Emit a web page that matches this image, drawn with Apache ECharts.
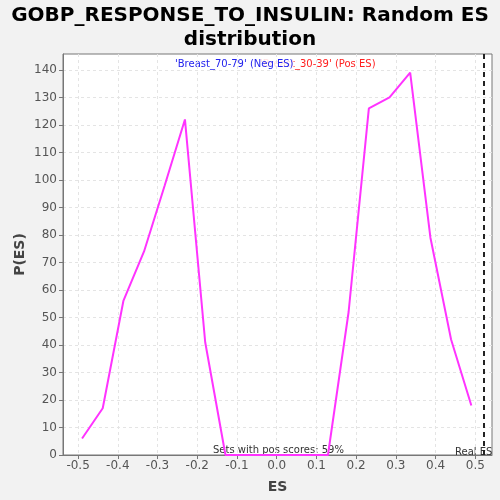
<!DOCTYPE html>
<html>
<head>
<meta charset="utf-8">
<script src="https://cdn.jsdelivr.net/npm/echarts@6/dist/echarts.min.js"></script>
<style>
html,body{margin:0;padding:0;background:#f2f2f2;}
#c{width:500px;height:500px;}
</style>
</head>
<body>
<div id="c"></div>
<script>
var esValues = [-0.490, -0.438, -0.386, -0.334, -0.282, -0.231, -0.180, -0.129, -0.077, -0.026, 0.026, 0.077, 0.129, 0.181, 0.232, 0.284, 0.336, 0.387, 0.439, 0.490];
var pValues = [6, 17, 56, 74, 98, 122, 41, 0, 0, 0, 0, 0, 0, 52, 126, 130, 139, 79, 42, 18];
var xTicks = [-0.5, -0.4, -0.3, -0.2, -0.1, 0.0, 0.1, 0.2, 0.3, 0.4, 0.5];
var yTicks = [0, 10, 20, 30, 40, 50, 60, 70, 80, 90, 100, 110, 120, 130, 140];
var realES = 0.524;
var titleText = 'GOBP_RESPONSE_TO_INSULIN: Random ES\ndistribution';
var negLabel = "'Breast_70-79' (Neg ES)";
var posLabel = "'Breast_30-39' (Pos ES)";
var posScoreText = 'Sets with pos scores: 59%';

var chart = echarts.init(document.getElementById('c'), null, {renderer: 'canvas'});
var gridLeft = 63, gridRight = 8, gridTop = 54, gridBottom = 45;
var option = {
  backgroundColor: '#f2f2f2',
  animation: false,
  title: {
    text: titleText,
    left: 'center',
    top: -1,
    textStyle: {fontFamily: 'DejaVu Sans', fontWeight: 'bold', fontSize: 20, color: '#000', lineHeight: 24}
  },
  grid: {left: gridLeft, right: gridRight, top: gridTop, bottom: gridBottom, show: true, backgroundColor: '#fff', borderColor: '#777', borderWidth: 1},
  xAxis: {
    type: 'value',
    min: -0.538, max: 0.542,
    name: 'ES', nameLocation: 'middle', nameGap: 25,
    nameTextStyle: {fontFamily: 'DejaVu Sans', fontWeight: 'bold', fontSize: 14, color: '#444'},
    axisLine: {show: true, onZero: false, lineStyle: {color: '#777'}},
    axisTick: {show: true, length: 4, customValues: xTicks, lineStyle: {color: '#777'}},
    axisLabel: {customValues: xTicks, fontFamily: 'DejaVu Sans', fontSize: 12, color: '#555', margin: 5,
      formatter: function(v){ return v.toFixed(1); }},
    splitLine: {show: true, lineStyle: {color: '#e4e4e4', type: [3, 3]}}
  },
  yAxis: {
    type: 'value',
    min: 0, max: 145.8,
    name: 'P(ES)', nameLocation: 'middle', nameGap: 36, nameMoveOverlap: false,
    nameTextStyle: {fontFamily: 'DejaVu Sans', fontWeight: 'bold', fontSize: 14, color: '#444'},
    axisLine: {show: true, onZero: false, lineStyle: {color: '#777'}},
    axisTick: {show: true, length: 4, customValues: yTicks, lineStyle: {color: '#777'}},
    axisLabel: {customValues: yTicks, fontFamily: 'DejaVu Sans', fontSize: 12, color: '#555', margin: 6},
    splitLine: {show: true, lineStyle: {color: '#e4e4e4', type: [3, 3]}}
  },
  series: [{
    type: 'line',
    data: esValues.map(function(x, i){ return [x, pValues[i]]; }),
    showSymbol: false,
    lineStyle: {color: '#ff33ff', width: 2},
    itemStyle: {color: '#ff33ff'},
    markLine: {
      silent: true,
      symbol: ['none', 'none'],
      label: {show: false},
      lineStyle: {color: '#222', type: [5, 4], width: 2},
      data: [{xAxis: realES}]
    }
  }],
  graphic: [
    {type: 'text', left: 260, top: 59, style: {text: posLabel, fill: '#ff2020', font: '10px "DejaVu Sans"'}},
    {type: 'text', left: 175, top: 59, style: {text: negLabel, fill: '#2222ee', font: '10px "DejaVu Sans"', backgroundColor: 'rgba(255,255,255,0.85)'}},
    {type: 'text', left: 213, top: 445, style: {text: posScoreText, fill: '#333', font: '10px "DejaVu Sans"'}},
    {type: 'text', left: 455, top: 447, style: {text: 'Real ES', fill: '#333', font: '10px "DejaVu Sans"'}}
  ]
};
chart.setOption(option);
</script>
</body>
</html>
